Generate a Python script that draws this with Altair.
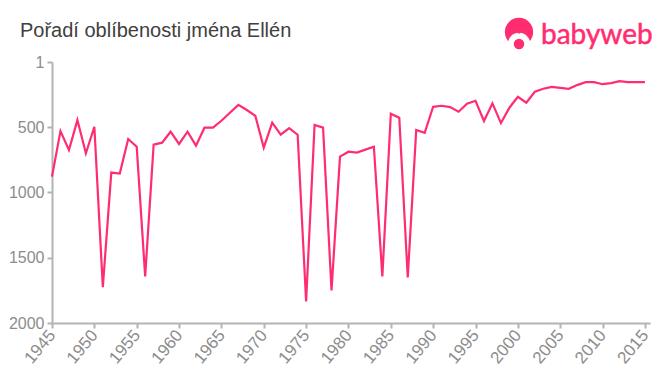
import altair as alt
import pandas as pd

years = list(range(1945, 2016))
ranks = [879, 530, 675, 446, 700, 497, 1725, 848, 856, 591,
         650, 1643, 634, 619, 535, 629, 535, 642, 504, 504,
         451, 390, 329, 369, 413, 657, 466, 558, 507, 558,
         1834, 484, 504, 1750, 726, 688, 695, 672, 650, 1643,
         397, 428, 1651, 522, 543, 344, 336, 346, 382, 321,
         298, 453, 318, 469, 351, 268, 313, 229, 206, 191,
         199, 206, 178, 155, 155, 171, 163, 148, 155, 155, 155]
x_ticks = list(range(1945, 2016, 5))
y_ticks = [1, 500, 1000, 1500, 2000]
title_text = "Pořadí oblíbenosti jména Ellén"
logo_text = "babyweb"
PINK = "#ff2d6f"
GREY = "#8c8c8c"
AXIS = "#b3b3b3"

df = pd.DataFrame({"year": years, "rank": ranks})

line = alt.Chart(df).mark_line(color=PINK, strokeWidth=2.2, interpolate="linear", clip=False).encode(
    x=alt.X("year:Q", scale=alt.Scale(domain=[1945, 2015.6], nice=False, zero=False),
            axis=alt.Axis(values=x_ticks, format="d", title=None, grid=False, labelAngle=310,
                          labelAlign="right", labelBaseline="middle", labelFont="Liberation Sans",
                          labelFontSize=17, labelColor=GREY, labelPadding=4, labelOverlap=False,
                          domainColor=AXIS, domainWidth=2, tickColor=AXIS, tickWidth=2, tickSize=5)),
    y=alt.Y("rank:Q", scale=alt.Scale(domain=[2000, 1], nice=False, zero=False),
            axis=alt.Axis(values=y_ticks, format="d", title=None, grid=False,
                          labelExpr="datum.value == 1 ? '1\u00a0\u00a0' : datum.label",
                          labelFont="Liberation Sans", labelFontSize=16, labelColor=GREY, labelPadding=3,
                          labelOverlap=False, domainColor=AXIS, domainWidth=2, tickColor=AXIS,
                          tickWidth=2, tickSize=5)),
)

title = alt.Chart(pd.DataFrame({"t": [title_text]})).mark_text(
    align="left", baseline="middle", font="Liberation Sans", fontSize=20, color="#404040"
).encode(x=alt.value(-32), y=alt.value(-31), text="t:N")

logo_word = alt.Chart(pd.DataFrame({"t": [logo_text]})).mark_text(
    align="left", baseline="middle", font="Lato", fontSize=28, color=PINK, stroke=PINK, strokeWidth=0.5
).encode(x=alt.value(489), y=alt.value(-26), text="t:N")

hair = alt.Chart(pd.DataFrame({"k": [0]})).mark_point(filled=True, opacity=1, color=PINK, size=800).encode(
    x=alt.value(467), y=alt.value(-30))
face = alt.Chart(pd.DataFrame({"k": [0]})).mark_point(filled=True, opacity=1, color="white", size=500).encode(
    x=alt.value(467), y=alt.value(-18))
notch = alt.Chart(pd.DataFrame({"k": [0]})).mark_point(filled=True, opacity=1, color=PINK, size=30,
                                                       shape="triangle-down").encode(
    x=alt.value(467), y=alt.value(-30))
nose = alt.Chart(pd.DataFrame({"k": [0]})).mark_point(filled=True, opacity=1, color=PINK, size=110).encode(
    x=alt.value(467), y=alt.value(-18))

chart = alt.layer(line, title, hair, face, notch, nose, logo_word).properties(
    width=598, height=261,
    autosize=alt.AutoSizeParams(type="none"),
    padding={"left": 44, "top": 54, "right": 2, "bottom": 46},
).configure_view(stroke=None)

chart.save("out.html", embed_options={"renderer": "svg", "actions": False})
